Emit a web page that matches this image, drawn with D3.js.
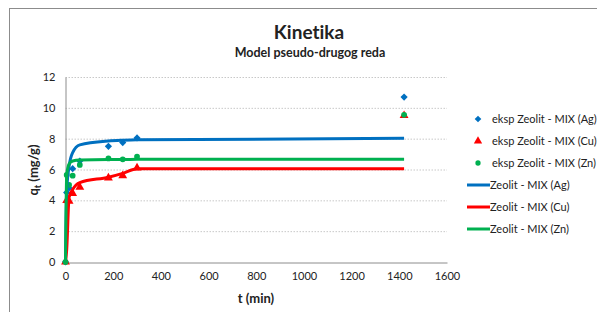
<!DOCTYPE html>
<html>
<head>
<meta charset="utf-8">
<script src="https://cdn.jsdelivr.net/npm/d3@7"></script>
<style>
  body { margin: 0; background: #fff; }
  text { font-family: Lato, "Open Sans", sans-serif; fill: #222; font-variant-ligatures: none; }
  .grid line { stroke: #c8c8c8; stroke-dasharray: 1.5 1.5; }
</style>
</head>
<body>
<div id="chart"></div>
<script>
// experimental times (min) and measured q_t (mg/g)
var tExp = [0, 5, 15, 30, 60, 180, 240, 300, 1420];
var qAg = [0, 4.5, 4.8, 6.05, 6.55, 7.5, 7.75, 8.05, 10.7];
var qCu = [0, 4.0, 3.95, 4.45, 4.85, 5.45, 5.6, 6.1, 9.5];
var qZn = [0, 5.65, 5.0, 5.6, 6.3, 6.72, 6.66, 6.83, 9.55];

// model curve points
var tModel = [0, 5, 15, 30, 60, 180, 240, 300, 1420];
var mAg = [0, 4.6, 6.2, 7.1, 7.6, 7.85, 7.9, 7.93, 8.02];
var mCu = [0, 0.8, 4.2, 4.7, 5.15, 5.5, 5.75, 6.05, 6.05];
var mZn = [0, 5.6, 6.35, 6.55, 6.62, 6.65, 6.65, 6.66, 6.66];

var xTicks = [0, 200, 400, 600, 800, 1000, 1200, 1400, 1600];
var yTicks = [0, 2, 4, 6, 8, 10, 12];

var expNames = ["eksp Zeolit -  MIX (Ag)", "eksp Zeolit -  MIX (Cu)", "eksp Zeolit -  MIX (Zn)"];
var modelNames = ["Zeolit - MIX (Ag)", "Zeolit - MIX (Cu)", "Zeolit - MIX (Zn)"];
var colors = ["#0070C0", "#FF0000", "#00B050"];

function init() {
    var w = 597, h = 312;
    var left = 65.5, right = 447, top = 77, bottom = 262;

    var svg = d3.select("#chart").append("svg")
        .attr("width", w).attr("height", h);

    // outer chart frame
    svg.append("rect")
        .attr("x", 9.5).attr("y", 8.5)
        .attr("width", 620).attr("height", 340)
        .attr("fill", "none").attr("stroke", "#8c8c8c");

    var xScale = d3.scaleLinear().domain([0, 1600]).range([left, right]);
    var yScale = d3.scaleLinear().domain([0, 12]).range([bottom, top]);

    // gridlines
    svg.append("g").attr("class", "grid")
        .selectAll("line").data(yTicks.slice(1)).enter().append("line")
        .attr("x1", left).attr("x2", right)
        .attr("y1", function(d) { return yScale(d) + 0.5; })
        .attr("y2", function(d) { return yScale(d) + 0.5; });

    // axes
    var xAxis = d3.axisBottom(xScale).tickValues(xTicks).tickFormat(d3.format("d"))
        .tickSize(0).tickPadding(10);
    var yAxis = d3.axisLeft(yScale).tickValues(yTicks).tickFormat(d3.format("d"))
        .tickSize(0).tickPadding(10);

    var gx = svg.append("g")
        .attr("transform", "translate(0," + (bottom + 0.5) + ")")
        .call(xAxis);
    var gy = svg.append("g")
        .attr("transform", "translate(" + left + ",0)")
        .call(yAxis);
    [gx, gy].forEach(function(g) {
        g.select(".domain").attr("stroke", "#8c8c8c");
        g.selectAll("text")
            .style("font-family", "Lato, sans-serif")
            .style("font-size", "11px")
            .attr("fill", "#222");
    });

    // experimental markers (diamond = square turned 45 degrees)
    var expData = [qAg, qCu, qZn];
    var shapes = [d3.symbolSquare, d3.symbolTriangle, d3.symbolCircle];
    var sizes = [26, 34, 26];
    var turns = [45, 0, 0];

    expData.forEach(function(q, i) {
        svg.append("g").selectAll("path")
            .data(tExp.map(function(t, j) { return { t: t, q: q[j] }; }))
            .enter().append("path")
            .attr("d", d3.symbol().type(shapes[i]).size(sizes[i]))
            .attr("transform", function(d) {
                return "translate(" + xScale(d.t) + "," + yScale(d.q) + ") rotate(" + turns[i] + ")";
            })
            .attr("fill", colors[i]);
    });

    // model lines
    var line = d3.line()
        .x(function(d) { return xScale(d.t); })
        .y(function(d) { return yScale(d.q); })
        .curve(d3.curveMonotoneX);

    [mAg, mCu, mZn].forEach(function(q, i) {
        svg.append("path")
            .datum(tModel.map(function(t, j) { return { t: t, q: q[j] }; }))
            .attr("d", line)
            .attr("fill", "none")
            .attr("stroke", colors[i])
            .attr("stroke-width", 3);
    });

    // titles
    svg.append("text")
        .attr("x", 309).attr("y", 38.5)
        .attr("text-anchor", "middle")
        .style("font-size", "19px").style("font-weight", "bold")
        .text("Kinetika");
    svg.append("text")
        .attr("x", 310).attr("y", 57)
        .attr("text-anchor", "middle")
        .style("font-size", "12.5px").style("font-weight", "bold")
        .text("Model pseudo-drugog reda");

    // axis titles
    svg.append("text")
        .attr("x", 256).attr("y", 303)
        .attr("text-anchor", "middle")
        .style("font-size", "13px").style("font-weight", "bold")
        .text("t (min)");

    var yt = svg.append("text")
        .attr("transform", "translate(38,170) rotate(-90)")
        .attr("text-anchor", "middle")
        .style("font-size", "13px").style("font-weight", "bold");
    yt.append("tspan").text("q");
    yt.append("tspan").attr("dy", 3).style("font-size", "9px").text("t");
    yt.append("tspan").attr("dy", -3).text(" (mg/g)");

    // legend
    var legendY = [119, 141, 163, 185, 207, 229];
    expNames.forEach(function(name, i) {
        svg.append("path")
            .attr("d", d3.symbol().type(shapes[i]).size(sizes[i] - 4))
            .attr("transform", "translate(478," + legendY[i] + ") rotate(" + turns[i] + ")")
            .attr("fill", colors[i]);
        svg.append("text")
            .attr("x", 492).attr("y", legendY[i] + 4)
            .style("font-size", "11px")
            .text(name);
    });
    modelNames.forEach(function(name, i) {
        var y = legendY[i + 3];
        svg.append("line")
            .attr("x1", 467).attr("x2", 490)
            .attr("y1", y).attr("y2", y)
            .attr("stroke", colors[i]).attr("stroke-width", 3);
        svg.append("text")
            .attr("x", 490).attr("y", y + 4)
            .style("font-size", "11px")
            .text(name);
    });
}

window.onload = init;
</script>
</body>
</html>
